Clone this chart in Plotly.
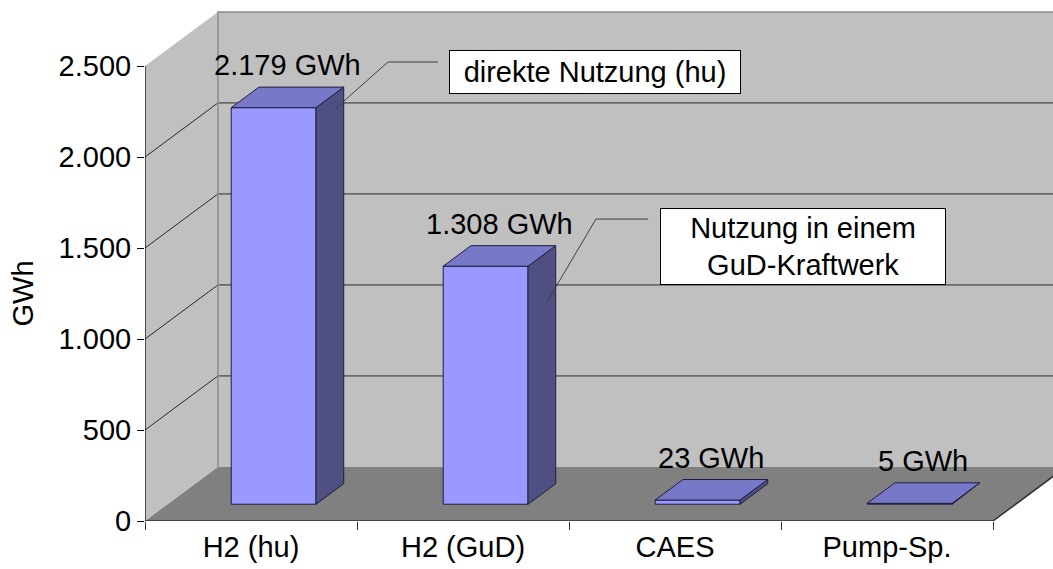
import plotly.graph_objects as go

# ---- data -------------------------------------------------------------
categories = ["H2 (hu)", "H2 (GuD)", "CAES", "Pump-Sp."]
values_gwh = [2179, 1308, 23, 5]
value_labels = ["2.179 GWh", "1.308 GWh", "23 GWh", "5 GWh"]
y_ticks = [0, 500, 1000, 1500, 2000, 2500]
callout_texts = ["direkte Nutzung (hu)", "Nutzung in einem<br>GuD-Kraftwerk"]

# ---- pseudo-3D geometry (all in axis units) ---------------------------
DEPTH_X = 0.344      # sideways shift of the back plane (category units)
DEPTH_Y = 297.0      # upward shift of the back plane (GWh units)
BAR_HALF = 0.2       # half bar width
Z_FRONT, Z_BACK = 0.31, 0.69   # bar depth inside the box
Y_TOP = 2500
X_LO, X_HI = -0.5, 3.5

FONT = "Arial, Liberation Sans, sans-serif"
FS = 29

WALL = "#C0C0C0"
FLOOR = "#808080"
EDGE = "#8C8C8C"
GRID = "#2A2A2A"
BAR_FRONT = "#9999FF"
BAR_TOP = "#7878C8"
BAR_SIDE = "#4F4F82"
BAR_LINE = "#1E1E40"


def proj(x, y, z):
    """Map a point of the 3D box to the front plane of the axes."""
    return x + z * DEPTH_X, y + z * DEPTH_Y


fig = go.Figure()


def poly(points, fill, line_color=None, width=0):
    xs = [p[0] for p in points] + [points[0][0]]
    ys = [p[1] for p in points] + [points[0][1]]
    fig.add_trace(go.Scatter(
        x=xs, y=ys, mode="lines", fill="toself", fillcolor=fill,
        line=dict(color=line_color or fill, width=width),
        hoverinfo="skip", showlegend=False))


def segment(points, color, width=1):
    fig.add_trace(go.Scatter(
        x=[p[0] for p in points], y=[p[1] for p in points], mode="lines",
        line=dict(color=color, width=width), hoverinfo="skip",
        showlegend=False))


# walls and floor
poly([proj(X_LO, 0, 1), proj(X_HI, 0, 1), proj(X_HI, Y_TOP, 1), proj(X_LO, Y_TOP, 1)], WALL)
poly([proj(X_LO, 0, 0), proj(X_LO, 0, 1), proj(X_LO, Y_TOP, 1), proj(X_LO, Y_TOP, 0)], WALL)

# gridlines on back and side wall
for v in y_ticks[1:-1]:
    segment([proj(X_LO, v, 1), proj(X_HI, v, 1)], GRID, 1)
    segment([proj(X_LO, v, 0), proj(X_LO, v, 1)], GRID, 1)

# wall borders
segment([proj(X_LO, 0, 1), proj(X_LO, Y_TOP, 1), proj(X_HI, Y_TOP, 1)], EDGE, 1.5)

poly([proj(X_LO, 0, 0), proj(X_HI, 0, 0), proj(X_HI, 0, 1), proj(X_LO, 0, 1)], FLOOR)
segment([proj(X_LO, 0, 0), proj(X_HI, 0, 0), proj(X_HI, 0, 1)], "#303030", 1.5)
segment([proj(X_LO, 0, 0), proj(X_LO, Y_TOP, 0)], "#000000", 1.2)

# bars
for i, v in enumerate(values_gwh):
    l, r = i - BAR_HALF, i + BAR_HALF
    poly([proj(l, 0, Z_FRONT), proj(r, 0, Z_FRONT), proj(r, v, Z_FRONT), proj(l, v, Z_FRONT)],
         BAR_FRONT, BAR_LINE, 1)
    poly([proj(r, 0, Z_FRONT), proj(r, 0, Z_BACK), proj(r, v, Z_BACK), proj(r, v, Z_FRONT)],
         BAR_SIDE, BAR_LINE, 1)
    poly([proj(l, v, Z_FRONT), proj(r, v, Z_FRONT), proj(r, v, Z_BACK), proj(l, v, Z_BACK)],
         BAR_TOP, BAR_LINE, 1)

# invisible trace so the category-label axis is drawn
fig.add_trace(go.Scatter(x=list(range(len(categories))), y=[0] * len(categories),
                         xaxis="x2", mode="markers", marker=dict(opacity=0),
                         hoverinfo="skip", showlegend=False))

annotations = []
# value labels above the bars
for i, (v, txt) in enumerate(zip(values_gwh, value_labels)):
    x_mid = proj(i, v, 0.5)[0]
    y_back = proj(i, v, Z_BACK)[1]
    annotations.append(dict(
        x=x_mid, y=y_back, xref="x", yref="y", text=txt, showarrow=False,
        xanchor="center", yanchor="bottom", yshift=4,
        font=dict(family=FONT, size=FS, color="#000000")))

# callouts: leader lines from the bar side faces to the text boxes
leaders = [
    [(0.882, 2522), (0.646, 2522), (0.401, 2269)],
    [(1.873, 1659), (1.627, 1659), (1.396, 1203)],
]
boxes = [
    dict(x=1.623, y=2467, width=286, height=38),
    dict(x=2.604, y=1508, width=280, height=71),
]
for pts in leaders:
    segment(pts, "#404040", 1)
for txt, b in zip(callout_texts, boxes):
    annotations.append(dict(
        x=b["x"], y=b["y"], xref="x", yref="y", text=txt, showarrow=False,
        xanchor="center", yanchor="middle", align="center",
        width=b["width"], height=b["height"], bgcolor="#FFFFFF",
        bordercolor="#000000", borderwidth=1, borderpad=2,
        font=dict(family=FONT, size=FS, color="#000000")))

# vertical axis title
annotations.append(dict(
    x=-0.1344, y=Y_TOP / 2, xref="paper", yref="y", text="GWh", textangle=-90,
    showarrow=False, xanchor="center", yanchor="middle",
    font=dict(family=FONT, size=FS, color="#000000")))

PX_PER_CAT = 212.0
PX_PER_GWH = 0.182
plot_w, plot_h = 1053 - 145, 569 - 48
x_range = [X_LO, X_LO + plot_w / PX_PER_CAT]
y_range = [0, plot_h / PX_PER_GWH]

fig.update_layout(
    width=1053, height=569,
    margin=dict(l=145, r=0, t=0, b=48),
    paper_bgcolor="#FFFFFF", plot_bgcolor="#FFFFFF",
    separators=",.",
    showlegend=False,
    font=dict(family=FONT, size=FS, color="#000000"),
    annotations=annotations,
    xaxis=dict(
        range=x_range, showgrid=False, zeroline=False, showline=False,
        tickvals=[X_LO + k for k in range(5)], ticktext=[""] * 5,
        ticks="outside", ticklen=8, tickcolor="#303030", tickwidth=1,
        fixedrange=True),
    xaxis2=dict(
        range=x_range, overlaying="x", anchor="y", side="bottom",
        showgrid=False, zeroline=False, showline=False,
        tickvals=list(range(len(categories))), ticktext=categories,
        ticks="", ticklabelstandoff=6,
        tickfont=dict(family=FONT, size=FS, color="#000000"), fixedrange=True),
    yaxis=dict(
        range=y_range, showgrid=False, zeroline=False, showline=False,
        tickvals=y_ticks, tickformat=",d", ticks="outside", ticklen=7,
        tickcolor="#000000", tickwidth=1,
        tickfont=dict(family=FONT, size=FS, color="#000000"), fixedrange=True),
)

fig.write_html("out.html")
